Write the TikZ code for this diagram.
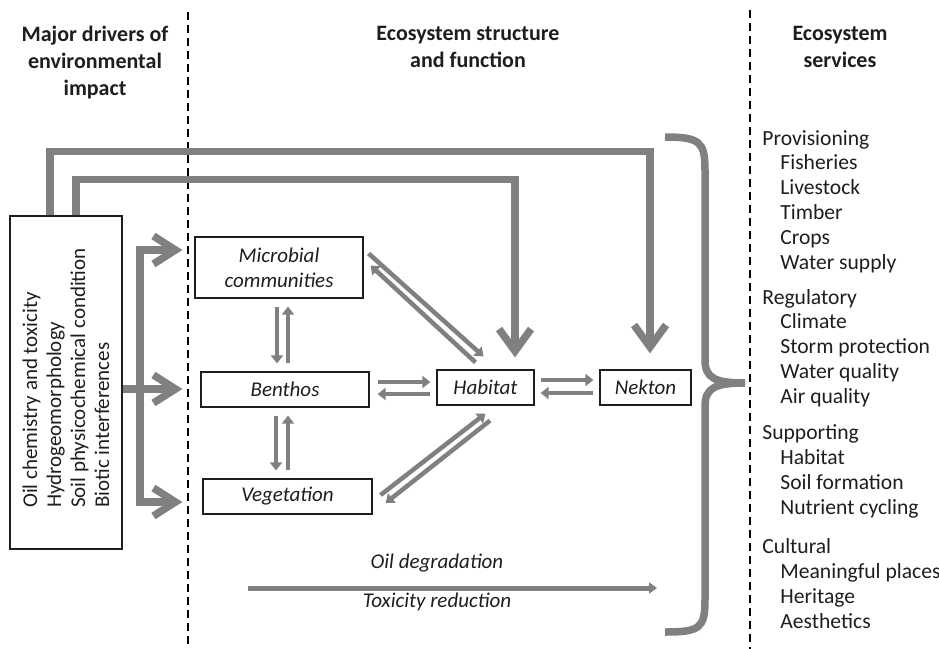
\documentclass[tikz,border=0pt]{standalone}
\usepackage{fontspec}
\setmainfont{Carlito}
\usetikzlibrary{arrows.meta, calc}
\definecolor{flowgray}{HTML}{808080}
\definecolor{inkgray}{HTML}{1E1E1E}

\tikzset{
  header/.style={font=\fontsize{11}{13.5}\selectfont\bfseries, text=inkgray, align=center, anchor=north, inner sep=0pt},
  compbox/.style={draw=inkgray, line width=0.6pt, inner sep=0pt, text=inkgray, align=center,
    font=\fontsize{10.5}{12.5}\selectfont\itshape},
  divider/.style={draw=black, line width=1.3pt, dash pattern=on 4pt off 2.5pt},
  bigflow/.style={draw=flowgray, line width=3.75pt, -{Straight Barb[length=11pt,width=16pt]}},
  bigline/.style={draw=flowgray, line width=3.75pt},
  sideflow/.style={draw=flowgray, line width=3.75pt, -{Straight Barb[length=11pt,width=14pt]}},
  pairflow/.style={draw=flowgray, line width=2.25pt, -{Triangle[length=4pt,width=6pt]}},
  degflow/.style={draw=flowgray, line width=2.5pt, -{Triangle[length=4pt,width=5.5pt]}},
  bracestroke/.style={draw=flowgray, line width=3.75pt},
  svchead/.style={anchor=base west, inner sep=0pt, text=inkgray, font=\fontsize{10.8}{12.5}\selectfont},
  svcitem/.style={svchead},
  flowlabel/.style={inner sep=0pt, text=inkgray, font=\fontsize{10.5}{12.5}\selectfont\itshape}
}

\begin{document}
\begin{tikzpicture}[x=0.5pt, y=-0.5pt]
  \useasboundingbox (0,0) rectangle (939,649);
  \clip (0,0) rectangle (939,649);

  % column dividers
  \draw[divider] (188,12) -- (188,649);
  \draw[divider] (750,10) -- (750,649);

  % column headers
  \node[header] (hd-drivers) at (95,26) {Major drivers of\\environmental\\impact};
  \node[header] (hd-struct) at (468,26) {Ecosystem structure\\and function};
  \node[header] (hd-services) at (840,26) {Ecosystem\\services};

  % drivers box
  \node[draw=inkgray, line width=0.6pt, minimum width=56pt, minimum height=166.5pt, inner sep=0pt] (drv) at (66,382.5) {};
  \node[rotate=90, align=left, inner sep=0pt, text=inkgray, font=\fontsize{10.5}{12}\selectfont] (drv-text) at (66,378)
    {Oil chemistry and toxicity\\Hydrogeomorphology\\Soil physicochemical condition\\Biotic interferences};

  % ecosystem components
  \node[compbox, minimum width=84pt, minimum height=30.5pt] (mic) at (279,267.5) {Microbial\\communities};
  \node[compbox, minimum width=84pt, minimum height=17.5pt] (ben) at (285,389.5) {Benthos};
  \node[compbox, minimum width=84.5pt, minimum height=17.5pt] (veg) at (287.5,496.5) {Vegetation};
  \node[compbox, minimum width=48.5pt, minimum height=17.5pt] (hab) at (485.5,387.5) {Habitat};
  \node[compbox, minimum width=45.5pt, minimum height=17.5pt] (nek) at (645.5,387.5) {Nekton};

  % drivers acting directly on habitat and nekton
  \draw[bigflow] ([xshift=-8pt]drv.north) -- ++(0,-64) -| ([xshift=2.25pt,yshift=8pt]nek.north);
  \draw[bigflow] ([xshift=5pt]drv.north) -- ++(0,-36) -| ([xshift=14.75pt,yshift=6pt]hab.north);

  % drivers feeding the components
  \coordinate (feed) at (140,389);
  \draw[bigline] ([yshift=-3.25pt]drv.east) -- (feed);
  \draw[sideflow] (feed) |- ([xshift=-6pt,yshift=8.75pt]mic.west);
  \draw[sideflow] (feed) -- ([xshift=-9pt]ben.west |- feed);
  \draw[sideflow] (feed) |- ([xshift=-10pt,yshift=-2.75pt]veg.west);

  % two-way links
  \draw[pairflow, shorten <=4pt, shorten >=4pt] ([xshift=-4pt]ben.north |- mic.south) -- ([xshift=-4pt]ben.north);
  \draw[pairflow, shorten <=4pt, shorten >=4pt] ([xshift=1.5pt]ben.north) -- ([xshift=1.5pt]ben.north |- mic.south);
  \draw[pairflow, shorten <=4pt, shorten >=4pt] ([xshift=-4.5pt]ben.south) -- ([xshift=-4.5pt]ben.south |- veg.north);
  \draw[pairflow, shorten <=4pt, shorten >=4pt] ([xshift=1.5pt]ben.south |- veg.north) -- ([xshift=1.5pt]ben.south);

  \draw[pairflow, shorten <=4pt, shorten >=3pt] ([yshift=2.75pt]hab.west -| ben.east) -- ([yshift=2.75pt]hab.west);
  \draw[pairflow, shorten <=3pt, shorten >=4pt] ([yshift=-3.25pt]hab.west) -- ([yshift=-3.25pt]hab.west -| ben.east);
  \draw[pairflow, shorten <=3pt, shorten >=3pt] ([yshift=3.75pt]hab.east) -- ([yshift=3.75pt]hab.east -| nek.west);
  \draw[pairflow, shorten <=3pt, shorten >=3pt] ([yshift=-2.75pt]nek.west) -- ([yshift=-2.75pt]nek.west -| hab.east);

  \draw[pairflow] ([xshift=2.5pt,yshift=7pt]mic.east) -- ([xshift=-1pt,yshift=6.5pt]hab.north);
  \draw[pairflow] ([xshift=-5pt,yshift=3.5pt]hab.north) -- ([xshift=3.5pt,yshift=1pt]mic.east);
  \draw[pairflow] ([xshift=4pt,yshift=0.75pt]veg.east) -- ([yshift=-4pt]hab.south);
  \draw[pairflow] ([xshift=2.25pt,yshift=-7.5pt]hab.south) -- ([xshift=6.5pt,yshift=-3.25pt]veg.east);

  % degradation over time
  \coordinate (deg-start) at (248,588);
  \coordinate (deg-end) at (657,588);
  \draw[degflow] (deg-start) -- (deg-end);
  \node[flowlabel] (deg-top) at (437,563) {Oil degradation};
  \node[flowlabel] (deg-bot) at (437,602) {Toxicity reduction};

  % brace towards services
  \coordinate (brace-tip) at (745,383);
  \draw[bracestroke] (665,137) .. controls (700,137) and (705,142) .. (705,170) -- (705,360)
    .. controls (705,378) and (715,383) .. (brace-tip);
  \draw[bracestroke] (brace-tip) .. controls (715,383) and (705,388) .. (705,406) -- (705,600)
    .. controls (705,628) and (700,632) .. (665,632);

  % services list
  \foreach \y/\t [count=\i] in {139/Provisioning, 298/Regulatory, 433/Supporting, 547/Cultural}
    \node[svchead] (svc-h\i) at (762,\y+6) {\t};
  \foreach \y/\t [count=\i] in {163/Fisheries, 188/Livestock, 213/Timber, 238/Crops, 263/Water supply,
      322/Climate, 347/Storm protection, 372/Water quality, 397/Air quality,
      458/Habitat, 483/Soil formation, 508/Nutrient cycling,
      572/Meaningful places, 597/Heritage, 622/Aesthetics}
    \node[svcitem] (svc-i\i) at (780,\y+6) {\t};
\end{tikzpicture}
\end{document}
